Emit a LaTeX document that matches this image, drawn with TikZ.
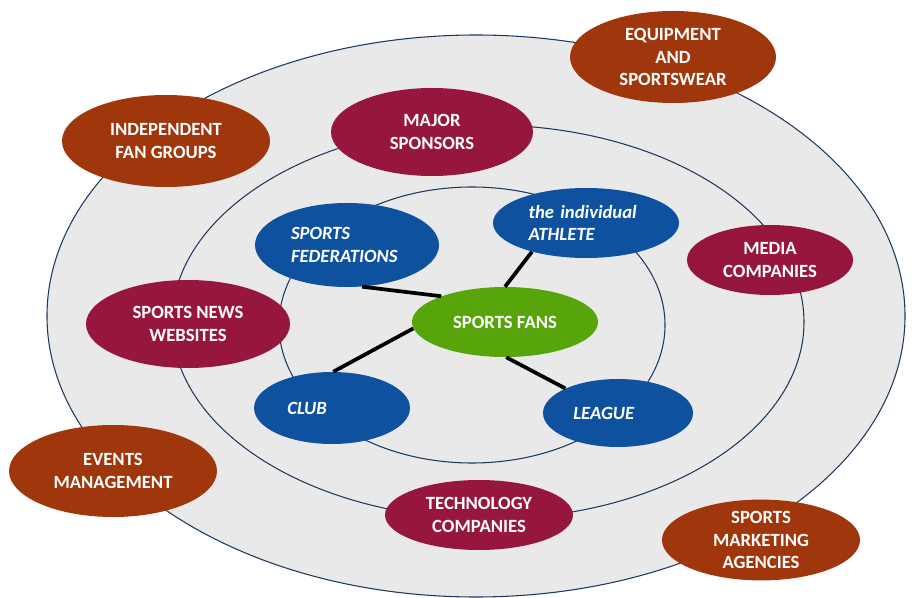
\documentclass[tikz,border=0pt]{standalone}
\usepackage{fontspec}
\setmainfont{Carlito}
\usetikzlibrary{shapes.geometric}
\definecolor{ringfill}{HTML}{E9E9E9}
\definecolor{ringline}{HTML}{1F3A5F}
\definecolor{rust}{HTML}{A0360C}
\definecolor{crimson}{HTML}{96163E}
\definecolor{royal}{HTML}{0E529F}
\definecolor{leaf}{HTML}{57A50B}
\tikzset{
  x=0.75pt, y=-0.75pt,
  ring/.style={fill=ringfill, draw=ringline, line width=0.8pt},
  blob/.style={ellipse, inner sep=0pt, text=white,
    font=\fontsize{14}{16.8}\selectfont\bfseries, align=center},
  outerblob/.style={blob, fill=rust},
  midblob/.style={blob, fill=crimson},
  innerblob/.style={blob, fill=royal,
    font=\fontsize{14}{16.8}\selectfont\bfseries\itshape, align=left},
  hub/.style={blob, fill=leaf},
  link/.style={line width=2.8pt, black}
}
\begin{document}
\begin{tikzpicture}
\useasboundingbox (0,0) rectangle (912,598);
\fill[white] (0,0) rectangle (912,598);

% concentric rings
\draw[ring] (476,316) ellipse [x radius=321.75pt, y radius=210.75pt];
\draw[ring] (488,322) ellipse [x radius=237pt, y radius=147.75pt];
\draw[ring] (472,325) ellipse [x radius=144.75pt, y radius=103.5pt];

% outer circle of stakeholders
\node[outerblob, minimum width=154.5pt, minimum height=69pt] (equip) at (673,57) {EQUIPMENT\\AND\\SPORTSWEAR};
\node[outerblob, minimum width=156pt, minimum height=69pt] (fangroups) at (166,141) {INDEPENDENT\\FAN GROUPS};
\node[outerblob, minimum width=156pt, minimum height=69pt] (events) at (113,471) {EVENTS\\MANAGEMENT};
\node[outerblob, minimum width=148.5pt, minimum height=58.5pt] (marketing) at (761,540) {SPORTS\\MARKETING\\AGENCIES};

% middle circle
\node[midblob, minimum width=151.5pt, minimum height=66pt] (sponsors) at (432,132) {MAJOR\\SPONSORS};
\node[midblob, minimum width=124.5pt, minimum height=52.5pt] (media) at (770,260) {MEDIA\\COMPANIES};
\node[midblob, minimum width=153pt, minimum height=66pt] (news) at (188,324) {SPORTS NEWS\\WEBSITES};
\node[midblob, minimum width=141pt, minimum height=52.5pt] (tech) at (479,515) {TECHNOLOGY\\COMPANIES};

% inner circle
\node[innerblob, minimum width=138pt, minimum height=63pt, text width=84pt] (fed) at (347,245) {SPORTS\\FEDERATIONS};
\node[innerblob, minimum width=139.5pt, minimum height=52.5pt, text width=86pt] (athlete) at (586,223) {the individual\\ATHLETE};
\node[innerblob, minimum width=117pt, minimum height=54pt, text width=67pt] (club) at (332,408) {CLUB};
\node[innerblob, minimum width=112.5pt, minimum height=51pt, text width=67pt] (league) at (618,413) {LEAGUE};

% centre
\node[hub, minimum width=139.5pt, minimum height=52.5pt] (fans) at (505,322) {SPORTS FANS};

% links to the centre
\draw[link] (fed.-70) -- (fans.158);
\draw[link] (athlete.208) -- (fans.90);
\draw[link] (fans.184) -- (club.88);
\draw[link] (fans.-88) -- (league.155);
\end{tikzpicture}
\end{document}
